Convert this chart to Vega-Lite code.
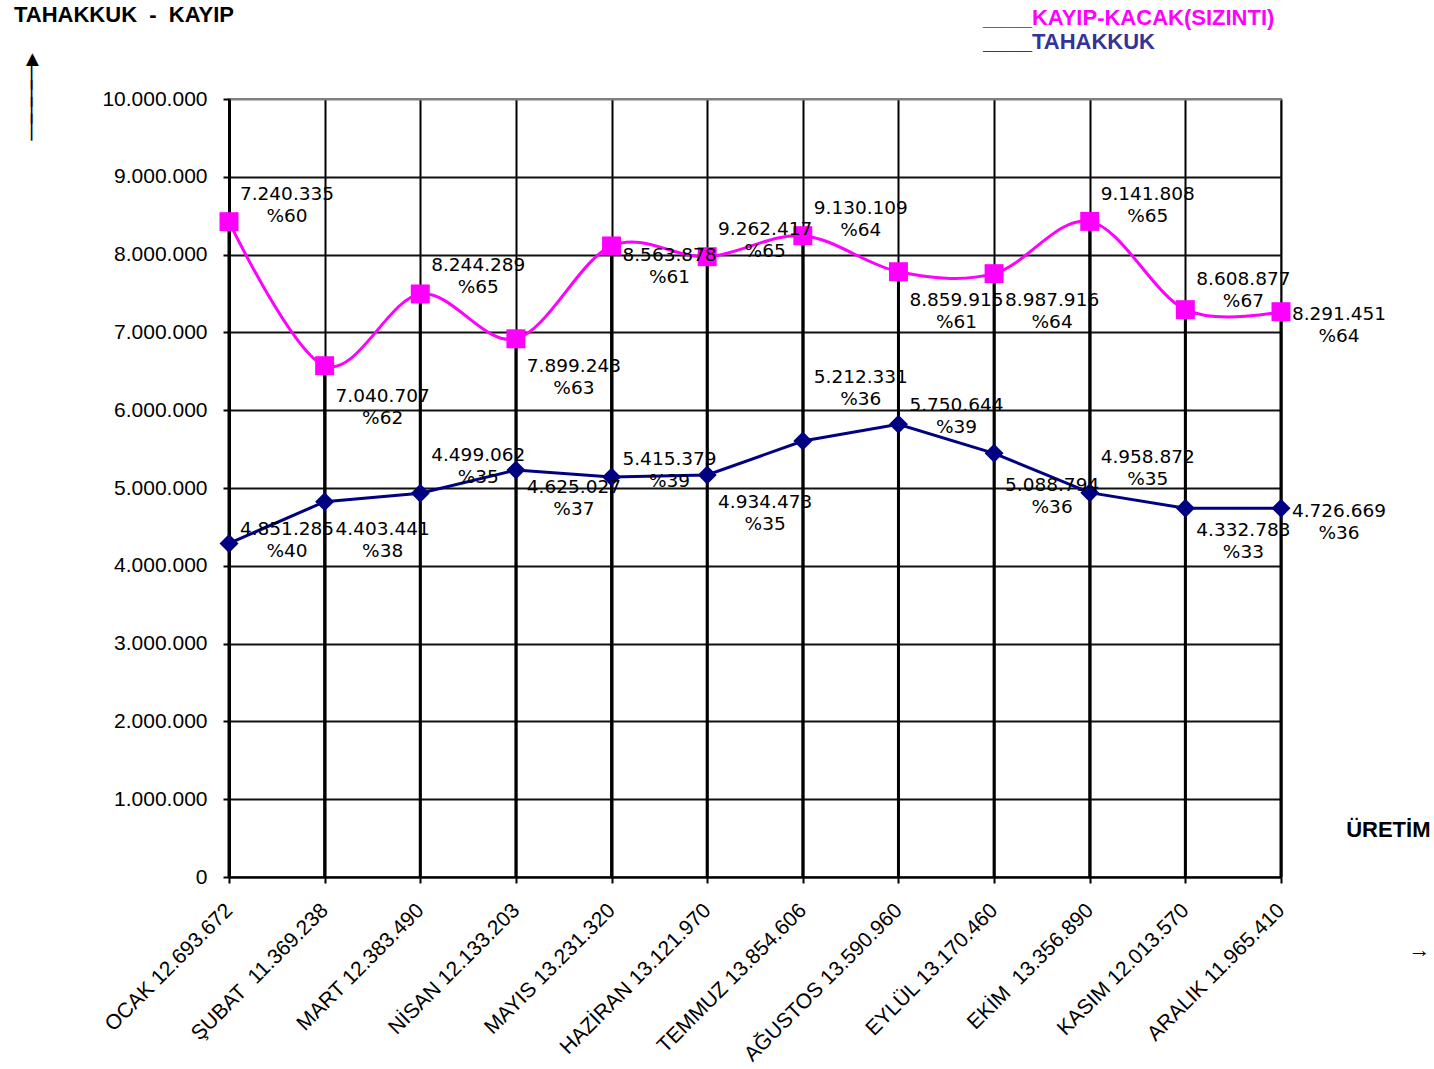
{
  "$schema": "https://vega.github.io/schema/vega-lite/v6.json",
  "autosize": "none",
  "width": 1052,
  "height": 778,
  "padding": {"left": 229, "top": 99, "right": 153, "bottom": 192},
  "background": "white",
  "title": {"text": "TAHAKKUK\u00a0 -\u00a0 KAYIP", "anchor": "start", "frame": "group", "dx": -215, "offset": 0, "dy": 20, "fontSize": 22, "fontWeight": "bold", "font": "Liberation Sans", "color": "black"},
  "config": {
    "font": "Liberation Sans",
    "view": {"stroke": "#808080", "strokeWidth": 2},
    "locale": {"number": {"decimal": ",", "thousands": ".", "grouping": [3], "currency": ["", ""]}}
  },
  "datasets": {
    "seriler": [
      {"ay": "OCAK 12.693.672", "seri": "KAYIP-KACAK(SIZINTI)", "deger": 8423000, "etiket": "7.240.335\n%60", "etiket_y": 8779000},
      {"ay": "ŞUBAT\u00a0 11.369.238", "seri": "KAYIP-KACAK(SIZINTI)", "deger": 6572000, "etiket": "7.040.707\n%62", "etiket_y": 6183000},
      {"ay": "MART 12.383.490", "seri": "KAYIP-KACAK(SIZINTI)", "deger": 7494000, "etiket": "8.244.289\n%65", "etiket_y": 7866000},
      {"ay": "NİSAN 12.133.203", "seri": "KAYIP-KACAK(SIZINTI)", "deger": 6918000, "etiket": "7.899.243\n%63", "etiket_y": 6568000},
      {"ay": "MAYIS 13.231.320", "seri": "KAYIP-KACAK(SIZINTI)", "deger": 8111000, "etiket": "8.563.878\n%61", "etiket_y": 7995000},
      {"ay": "HAZİRAN 13.121.970", "seri": "KAYIP-KACAK(SIZINTI)", "deger": 7973000, "etiket": "9.262.417\n%65", "etiket_y": 8329000},
      {"ay": "TEMMUZ 13.854.606", "seri": "KAYIP-KACAK(SIZINTI)", "deger": 8243000, "etiket": "9.130.109\n%64", "etiket_y": 8599000},
      {"ay": "AĞUSTOS 13.590.960", "seri": "KAYIP-KACAK(SIZINTI)", "deger": 7780000, "etiket": "8.859.915\n%61", "etiket_y": 7416000},
      {"ay": "EYLÜL 13.170.460", "seri": "KAYIP-KACAK(SIZINTI)", "deger": 7755000, "etiket": "8.987.916\n%64", "etiket_y": 7416000},
      {"ay": "EKİM\u00a0 13.356.890", "seri": "KAYIP-KACAK(SIZINTI)", "deger": 8427000, "etiket": "9.141.808\n%65", "etiket_y": 8779000},
      {"ay": "KASIM 12.013.570", "seri": "KAYIP-KACAK(SIZINTI)", "deger": 7292000, "etiket": "8.608.877\n%67", "etiket_y": 7686000},
      {"ay": "ARALIK 11.965.410", "seri": "KAYIP-KACAK(SIZINTI)", "deger": 7266000, "etiket": "8.291.451\n%64", "etiket_y": 7237000},
      {"ay": "OCAK 12.693.672", "seri": "TAHAKKUK", "deger": 4288000, "etiket": "4.851.285\n%40", "etiket_y": 4479000},
      {"ay": "ŞUBAT\u00a0 11.369.238", "seri": "TAHAKKUK", "deger": 4824000, "etiket": "4.403.441\n%38", "etiket_y": 4479000},
      {"ay": "MART 12.383.490", "seri": "TAHAKKUK", "deger": 4932000, "etiket": "4.499.062\n%35", "etiket_y": 5424000},
      {"ay": "NİSAN 12.133.203", "seri": "TAHAKKUK", "deger": 5231000, "etiket": "4.625.027\n%37", "etiket_y": 5013000},
      {"ay": "MAYIS 13.231.320", "seri": "TAHAKKUK", "deger": 5141000, "etiket": "5.415.379\n%39", "etiket_y": 5373000},
      {"ay": "HAZİRAN 13.121.970", "seri": "TAHAKKUK", "deger": 5167000, "etiket": "4.934.473\n%35", "etiket_y": 4820000},
      {"ay": "TEMMUZ 13.854.606", "seri": "TAHAKKUK", "deger": 5604000, "etiket": "5.212.331\n%36", "etiket_y": 6427000},
      {"ay": "AĞUSTOS 13.590.960", "seri": "TAHAKKUK", "deger": 5819000, "etiket": "5.750.644\n%39", "etiket_y": 6067000},
      {"ay": "EYLÜL 13.170.460", "seri": "TAHAKKUK", "deger": 5446000, "etiket": "5.088.794\n%36", "etiket_y": 5039000},
      {"ay": "EKİM\u00a0 13.356.890", "seri": "TAHAKKUK", "deger": 4940000, "etiket": "4.958.872\n%35", "etiket_y": 5398000},
      {"ay": "KASIM 12.013.570", "seri": "TAHAKKUK", "deger": 4739000, "etiket": "4.332.783\n%33", "etiket_y": 4460000},
      {"ay": "ARALIK 11.965.410", "seri": "TAHAKKUK", "deger": 4739000, "etiket": "4.726.669\n%36", "etiket_y": 4704000}
    ]
  },
  "data": {"name": "seriler"},
  "encoding": {
    "x": {
      "field": "ay", "type": "nominal", "sort": null,
      "scale": {"type": "point", "padding": 0},
      "axis": {
        "title": ["ÜRETİM", "\u200b", "\u200b", "→"],
        "titleFontSize": 22, "titleFontWeight": "bold", "titleColor": "black",
        "titleAngle": 0, "titleAlign": "right", "titleBaseline": "middle",
        "titleX": 1201, "titleY": -48, "titleLineHeight": 40,
        "labelAngle": -45, "labelAlign": "right", "labelBaseline": "middle",
        "labelFontSize": 21, "labelColor": "black", "labelPadding": 24, "labelLimit": 500,
        "labelOverlap": false, "labelFlush": false, "labelBound": false,
        "domainColor": "black", "domainWidth": 2,
        "tickColor": "black", "tickWidth": 2, "tickSize": 6,
        "grid": true, "gridColor": "black", "gridWidth": 2
      }
    },
    "y": {
      "field": "deger", "type": "quantitative",
      "scale": {"domain": [0, 10000000], "nice": false},
      "axis": {
        "values": [0, 1000000, 2000000, 3000000, 4000000, 5000000, 6000000, 7000000, 8000000, 9000000, 10000000],
        "format": ",d",
        "title": ["▲", "│", "│", "│", "│"],
        "titleFontSize": 22, "titleFontWeight": "normal", "titleColor": "black",
        "titleAngle": 0, "titleAlign": "center", "titleBaseline": "middle",
        "titleX": -197, "titleY": -41, "titleLineHeight": 17,
        "labelFontSize": 21, "labelColor": "black", "labelPadding": 16,
        "domainColor": "black", "domainWidth": 3,
        "tickColor": "black", "tickWidth": 2, "tickSize": 6,
        "grid": true, "gridWidth": 2,
        "gridColor": {"condition": {"test": "datum.value === 10000000", "value": "#808080"}, "value": "#111111"}
      }
    }
  },
  "layer": [
    {
      "transform": [{"filter": "datum.seri === 'KAYIP-KACAK(SIZINTI)'"}],
      "mark": {"type": "rule", "color": "black", "strokeWidth": 3},
      "encoding": {"y2": {"datum": 0}}
    },
    {
      "transform": [{"filter": "datum.seri === 'KAYIP-KACAK(SIZINTI)'"}],
      "mark": {"type": "line", "interpolate": "cardinal", "strokeWidth": 3},
      "encoding": {
        "color": {
          "field": "seri", "type": "nominal",
          "scale": {"domain": ["KAYIP-KACAK(SIZINTI)", "TAHAKKUK"], "range": ["#FF00FF", "#000080"]},
          "legend": {
            "title": null, "orient": "none", "legendX": 732, "legendY": -92,
            "labelExpr": "'____' + datum.label",
            "labelFontSize": 22, "labelFontWeight": "bold", "labelFont": "Liberation Sans",
            "symbolSize": 0, "symbolOpacity": 0, "symbolStrokeWidth": 0, "labelOffset": 0,
            "rowPadding": 2, "padding": 0, "labelLimit": 400,
            "encode": {"labels": {"update": {"fill": {"signal": "datum.value === 'TAHAKKUK' ? '#333399' : '#FF00FF'"}}}}
          }
        }
      }
    },
    {
      "transform": [{"filter": "datum.seri === 'TAHAKKUK'"}],
      "mark": {"type": "line", "interpolate": "linear", "strokeWidth": 3},
      "encoding": {"color": {"field": "seri", "type": "nominal"}}
    },
    {
      "mark": {"type": "point", "filled": true, "opacity": 1, "size": 360},
      "encoding": {
        "color": {"field": "seri", "type": "nominal"},
        "shape": {"field": "seri", "type": "nominal", "scale": {"domain": ["KAYIP-KACAK(SIZINTI)", "TAHAKKUK"], "range": ["square", "diamond"]}, "legend": null}
      }
    },
    {
      "mark": {"type": "text", "dx": 58, "align": "center", "baseline": "middle", "lineBreak": "\n", "lineHeight": 22, "fontSize": 18.5, "color": "black", "font": "DejaVu Sans"},
      "encoding": {
        "y": {"field": "etiket_y", "type": "quantitative"},
        "text": {"field": "etiket"}
      }
    }
  ]
}
